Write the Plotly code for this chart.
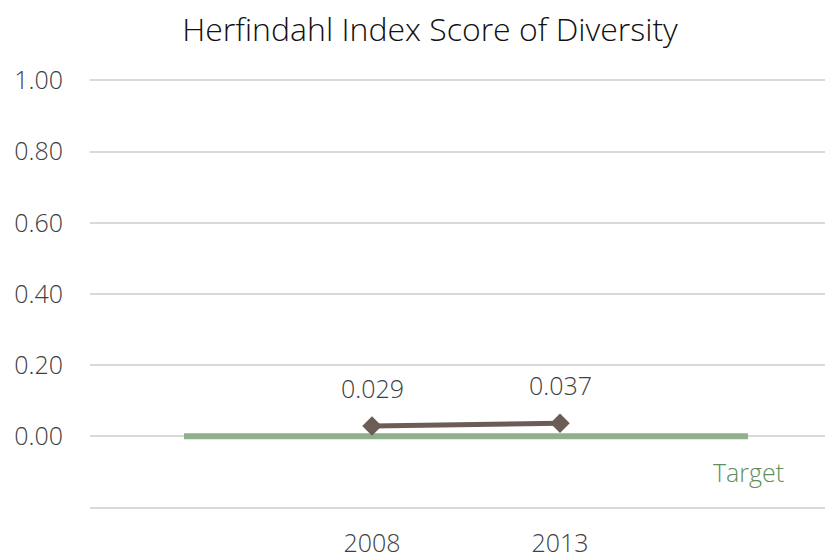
import plotly.graph_objects as go

categories = [" ", "2008", "2013", "  "]
years = ["2008", "2013"]
scores = [0.029, 0.037]
target = [0, 0, 0, 0]
score_labels = ["0.029", "0.037"]
y_ticks = [-0.2, 0, 0.2, 0.4, 0.6, 0.8, 1.0]
y_ticktext = ["", "0.00", "0.20", "0.40", "0.60", "0.80", "1.00"]

FONT = "Open Sans"
# the page body has an 8px default margin; offsets below compensate for it
OFF = 8

fig = go.Figure()
fig.add_trace(go.Scatter(
    x=categories, y=target, mode="lines",
    line=dict(color="#8fb08c", width=6),
    hoverinfo="skip", showlegend=False))
fig.add_trace(go.Scatter(
    x=years, y=scores, mode="lines+markers",
    line=dict(color="#6b5d55", width=5),
    marker=dict(symbol="diamond", size=15, color="#6b5d55"),
    showlegend=False))

for x, y, t in zip(years, scores, score_labels):
    fig.add_annotation(x=categories.index(x), y=y, text=t, showarrow=False, yshift=38,
                       font=dict(family=FONT, size=25, color="#404040", weight=300))

fig.add_annotation(x=len(categories) - 1, y=target[-1], text="Target", showarrow=False,
                   yshift=-36, font=dict(family=FONT, size=25, color="#5f8f5a", weight=300))

fig.update_layout(
    width=833, height=557,
    margin=dict(l=90 - OFF, r=OFF, t=77.5 - OFF, b=557 - (510.5 - OFF), autoexpand=False),
    paper_bgcolor="white", plot_bgcolor="white",
    title=dict(text="Herfindahl Index Score of Diversity", x=(430 - OFF) / 833,
               xanchor="center", y=1 - (30 - OFF) / 557, yanchor="middle",
               font=dict(family=FONT, size=32, color="#111111", weight=300)),
    xaxis=dict(type="category", categoryorder="array", categoryarray=categories,
               range=[-0.5, 3.452], showgrid=False, zeroline=False, showline=False,
               automargin=False,
               tickvals=years, ticktext=years, ticks="", ticklabelstandoff=16,
               tickfont=dict(family=FONT, size=25, color="#404040", weight=300)),
    yaxis=dict(range=[-0.207, 1.007], tickvals=y_ticks, ticktext=y_ticktext,
               showgrid=True, gridcolor="#d9d9d9", gridwidth=1.5, zeroline=False,
               showline=False, ticks="", ticklabelstandoff=26, automargin=False,
               tickfont=dict(family=FONT, size=25, color="#404040", weight=300)),
)

fig.write_html("out.html")
